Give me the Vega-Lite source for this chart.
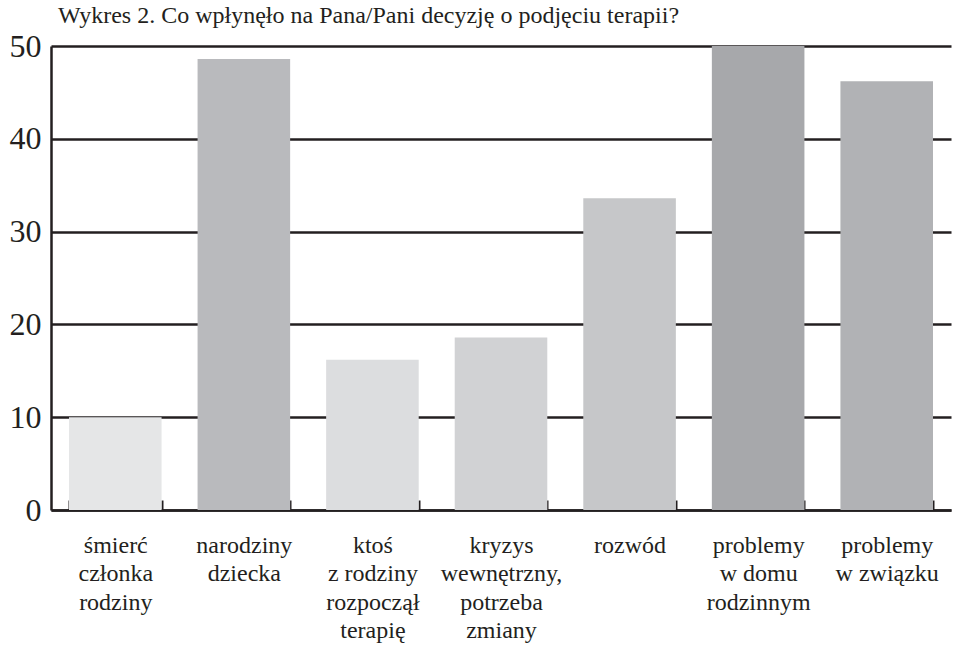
{
  "$schema": "https://vega.github.io/schema/vega-lite/v6.json",
  "autosize": {"type": "none"},
  "padding": {"left": 51, "top": 46, "right": 3, "bottom": 135},
  "width": 900,
  "height": 464,
  "background": "white",
  "title": {
    "text": "Wykres 2. Co wpłynęło na Pana/Pani decyzję o podjęciu terapii?",
    "anchor": "start",
    "font": "Liberation Serif",
    "fontSize": 24,
    "fontWeight": "normal",
    "color": "#231f20",
    "dx": 49,
    "offset": 2
  },
  "data": {
    "values": [
      {"kategoria": "śmierć|członka|rodziny", "wartosc": 10},
      {"kategoria": "narodziny|dziecka", "wartosc": 48.6},
      {"kategoria": "ktoś|z rodziny|rozpoczął|terapię", "wartosc": 16.2},
      {"kategoria": "kryzys|wewnętrzny,|potrzeba|zmiany", "wartosc": 18.6},
      {"kategoria": "rozwód", "wartosc": 33.6},
      {"kategoria": "problemy|w domu|rodzinnym", "wartosc": 50},
      {"kategoria": "problemy|w związku", "wartosc": 46.2}
    ]
  },
  "config": {
    "view": {"stroke": null},
    "font": "Liberation Serif"
  },
  "mark": {"type": "bar"},
  "encoding": {
    "x": {
      "field": "kategoria",
      "type": "nominal",
      "sort": null,
      "scale": {"paddingInner": 0.28, "paddingOuter": 0.14},
      "axis": {
        "title": null,
        "labelAngle": 0,
        "labelExpr": "split(datum.label, '|')",
        "labelFont": "Liberation Serif",
        "labelColor": "#231f20",
        "labelFontSize": 24,
        "labelLineHeight": 28.5,
        "labelBaseline": "top",
        "labelPadding": 33,
        "labelLimit": 0,
        "tickBand": "extent",
        "tickSize": -10,
        "tickWidth": 2,
        "tickColor": "#231f20",
        "domainColor": "#231f20",
        "domainWidth": 2.5,
        "grid": false
      }
    },
    "y": {
      "field": "wartosc",
      "type": "quantitative",
      "scale": {"domain": [0, 50], "nice": false},
      "axis": {
        "title": null,
        "values": [0, 10, 20, 30, 40, 50],
        "ticks": false,
        "labelFont": "Liberation Serif",
        "labelColor": "#231f20",
        "labelFontSize": 32,
        "labelPadding": 10,
        "grid": true,
        "gridColor": "#231f20",
        "gridWidth": 2.5,
        "domainColor": "#231f20",
        "domainWidth": 2.5
      }
    },
    "color": {
      "field": "kategoria",
      "type": "nominal",
      "legend": null,
      "scale": {
        "domain": ["śmierć|członka|rodziny", "narodziny|dziecka", "ktoś|z rodziny|rozpoczął|terapię", "kryzys|wewnętrzny,|potrzeba|zmiany", "rozwód", "problemy|w domu|rodzinnym", "problemy|w związku"],
        "range": ["#e5e6e7", "#b9babd", "#dcdddf", "#d1d2d4", "#c6c7c9", "#a7a8ab", "#b1b2b5"]
      }
    }
  }
}
